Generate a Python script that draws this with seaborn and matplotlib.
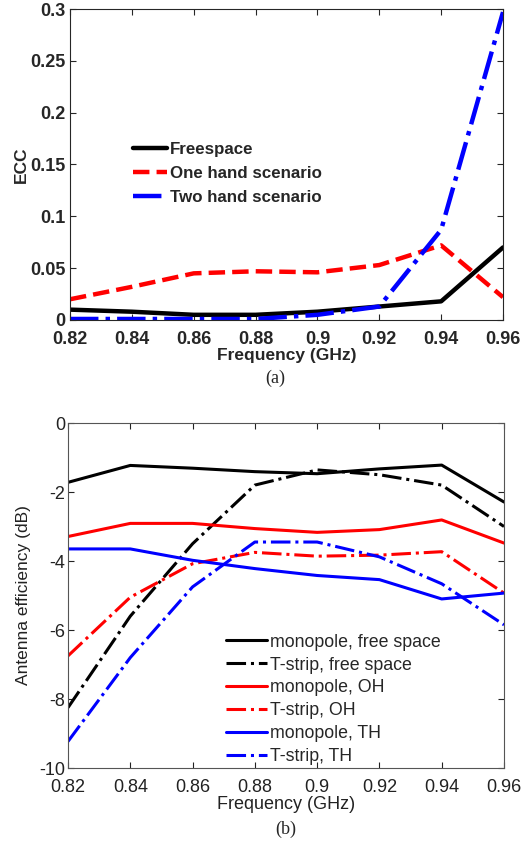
import numpy as np
import pandas as pd
import matplotlib
matplotlib.use("Agg")
import matplotlib.pyplot as plt
import seaborn as sns
from matplotlib.ticker import FuncFormatter

freq = [0.82, 0.84, 0.86, 0.88, 0.90, 0.92, 0.94, 0.96]

# (a) ECC
ecc_free = [0.010, 0.008, 0.005, 0.005, 0.008, 0.013, 0.018, 0.070]
ecc_one = [0.020, 0.032, 0.045, 0.047, 0.046, 0.053, 0.072, 0.022]
ecc_two = [0.001, 0.001, 0.001, 0.001, 0.005, 0.013, 0.087, 0.297]
ecc_labels = ["Freespace", "One hand scenario", "Two hand scenario"]

# (b) Antenna efficiency (dB)
mono_free = [-1.72, -1.23, -1.31, -1.41, -1.47, -1.33, -1.22, -2.29]
tstrip_free = [-8.25, -5.6, -3.5, -1.8, -1.36, -1.5, -1.8, -3.0]
mono_oh = [-3.29, -2.91, -2.91, -3.06, -3.17, -3.09, -2.81, -3.48]
tstrip_oh = [-6.75, -5.05, -4.08, -3.75, -3.86, -3.83, -3.73, -4.93]
mono_th = [-3.65, -3.65, -3.98, -4.22, -4.42, -4.54, -5.10, -4.93]
tstrip_th = [-9.23, -6.8, -4.75, -3.45, -3.45, -3.88, -4.66, -5.85]
eff_labels = ["monopole, free space", "T-strip, free space", "monopole, OH",
              "T-strip, OH", "monopole, TH", "T-strip, TH"]

sns.set_style("ticks")
plt.rcParams['font.family'] = ['Liberation Sans', 'DejaVu Sans']
plt.rcParams['xtick.direction'] = 'in'
plt.rcParams['ytick.direction'] = 'in'

fig = plt.figure(figsize=(5.24, 8.46), dpi=100)
W, H = 524, 846

def box(l, t, r, b):
    return [l / W, 1 - b / H, (r - l) / W, (b - t) / H]

ax1 = fig.add_axes(box(70, 9, 503, 320))
ax2 = fig.add_axes(box(68, 423, 504, 768))

fmt = FuncFormatter(lambda v, p: ("%g" % round(v, 4)))

# ---- (a)
dfa = pd.DataFrame({"freq": freq * 3,
                    "ecc": ecc_free + ecc_one + ecc_two,
                    "series": sum([[l] * len(freq) for l in ecc_labels], [])})
styles_a = {ecc_labels[0]: ("black", "-"), ecc_labels[1]: ("red", "--"),
            ecc_labels[2]: ("blue", "-.")}
for lab in ecc_labels:
    c, ls = styles_a[lab]
    sns.lineplot(data=dfa[dfa.series == lab], x="freq", y="ecc", ax=ax1,
                 color=c, linestyle=ls, linewidth=3.2, label=lab)
ax1.set_xlim(0.82, 0.96)
ax1.set_ylim(0, 0.3)
ax1.set_xticks(freq)
ax1.set_yticks([0, 0.05, 0.1, 0.15, 0.2, 0.25, 0.3])
ax1.xaxis.set_major_formatter(fmt)
ax1.yaxis.set_major_formatter(fmt)
ax1.tick_params(axis='both', which='both', top=True, right=True, length=4,
                labelsize=13, width=0.8)
ax1.tick_params(axis='x', pad=8)
ax1.tick_params(axis='y', pad=3)
for t in ax1.get_xticklabels() + ax1.get_yticklabels():
    t.set_fontweight('bold')
ax1.set_xlabel("Frequency (GHz)", fontsize=12.5, fontweight='bold', labelpad=0)
ax1.set_ylabel("ECC", fontsize=12.5, fontweight='bold', labelpad=1)
for s in ax1.spines.values():
    s.set_linewidth(0.8)
leg1 = ax1.legend(loc='upper left', bbox_to_anchor=(0.13, 0.595), frameon=False,
                  prop={'size': 12.2, 'weight': 'bold'}, handlelength=2.0,
                  handletextpad=0.2, labelspacing=0.55, borderaxespad=0)

# ---- (b)
series_b = [mono_free, tstrip_free, mono_oh, tstrip_oh, mono_th, tstrip_th]
dfb = pd.DataFrame({"freq": freq * 6,
                    "eff": sum(series_b, []),
                    "series": sum([[l] * len(freq) for l in eff_labels], [])})
cols_b = ["black", "black", "red", "red", "blue", "blue"]
ls_b = ["-", "-.", "-", "-.", "-", "-."]
for lab, c, ls in zip(eff_labels, cols_b, ls_b):
    sns.lineplot(data=dfb[dfb.series == lab], x="freq", y="eff", ax=ax2,
                 color=c, linestyle=ls, linewidth=2.2, label=lab)
ax2.set_xlim(0.82, 0.96)
ax2.set_ylim(-10, 0)
ax2.set_xticks(freq)
ax2.set_yticks([-10, -8, -6, -4, -2, 0])
ax2.xaxis.set_major_formatter(fmt)
ax2.yaxis.set_major_formatter(fmt)
ax2.tick_params(axis='both', which='both', top=True, right=True, length=4,
                labelsize=13, width=0.8, colors='#222222')
ax2.tick_params(axis='x', pad=8)
ax2.tick_params(axis='y', pad=2)
ax2.set_xlabel("Frequency (GHz)", fontsize=13, labelpad=0, color='#222222')
ax2.set_ylabel("Antenna efficiency (dB)", fontsize=12.5, labelpad=6, color='#222222')
for s in ax2.spines.values():
    s.set_linewidth(0.8)
    s.set_color('#555555')
leg2 = ax2.legend(loc='upper left', bbox_to_anchor=(0.346, 0.41), frameon=False,
                  prop={'size': 12.8}, handlelength=2.3, handletextpad=0.2,
                  labelspacing=0.33, borderaxespad=0)

fig.text(275 / W, 1 - 378 / H, "(a)", ha='center', va='center',
         family='Liberation Serif', fontsize=13)
fig.text(286 / W, 1 - 829 / H, "(b)", ha='center', va='center',
         family='Liberation Serif', fontsize=13)

fig.savefig("out.png", dpi=100)
